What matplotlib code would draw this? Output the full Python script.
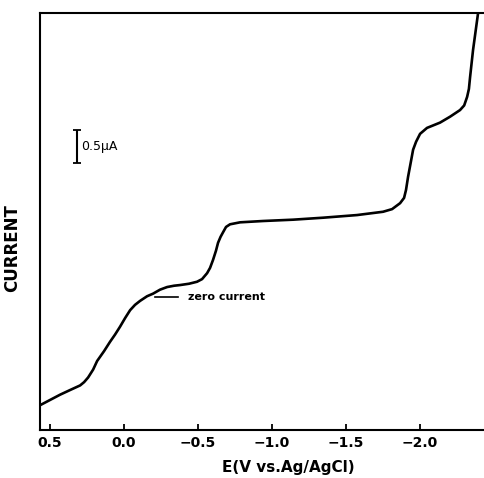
import numpy as np
import matplotlib
matplotlib.use("Agg")
import matplotlib.pyplot as plt

# polarogram: potential (V vs Ag/AgCl) and current (uA)
potential = [0.568, 0.500, 0.432, 0.365, 0.297, 0.270, 0.243, 0.209, 0.182,
             0.135, 0.095, 0.061, 0.027, -0.007, -0.041, -0.074, -0.108,
             -0.155, -0.196, -0.243, -0.291, -0.338, -0.378, -0.439, -0.493,
             -0.527, -0.561, -0.581, -0.601, -0.621, -0.635, -0.652, -0.669,
             -0.689, -0.716, -0.784, -0.939, -1.142, -1.345, -1.574, -1.750,
             -1.811, -1.865, -1.892, -1.905, -1.919, -1.939, -1.953, -1.973,
             -2.000, -2.047, -2.135, -2.203, -2.270, -2.298, -2.318, -2.330,
             -2.338, -2.358, -2.392]
current = [-1.64, -1.56, -1.48, -1.41, -1.34, -1.29, -1.22, -1.10, -0.97,
           -0.82, -0.68, -0.57, -0.45, -0.32, -0.20, -0.12, -0.06,
           0.01, 0.05, 0.11, 0.15, 0.17, 0.18, 0.20, 0.23,
           0.27, 0.36, 0.44, 0.56, 0.70, 0.82, 0.91, 0.98,
           1.06, 1.10, 1.13, 1.15, 1.17, 1.20, 1.24, 1.29,
           1.33, 1.42, 1.50, 1.62, 1.82, 2.06, 2.23, 2.35,
           2.47, 2.56, 2.64, 2.73, 2.83, 2.90, 3.03, 3.15,
           3.33, 3.74, 4.30]

tick_vals = [0.5, 0.0, -0.5, -1.0, -1.5, -2.0]
tick_labels = ["0.5", "0.0", "\u22120.5", "\u22121.0", "\u22121.5", "\u22122.0"]

fig = plt.figure(figsize=(4.84, 4.78), dpi=100)
ax = fig.add_axes([40 / 484, 48 / 478, 444 / 484, 417 / 478])

ax.plot(potential, current, color="black", lw=1.9,
        solid_capstyle="round", solid_joinstyle="round")

ax.set_xlim(0.568, -2.432)
ax.set_ylim(-2.015, 4.30)

ax.spines["right"].set_visible(False)
for s in ["left", "top", "bottom"]:
    ax.spines[s].set_linewidth(1.5)

ax.set_xticks(tick_vals)
ax.set_xticklabels(tick_labels, fontsize=10, fontweight="bold")
ax.tick_params(axis="x", direction="in", length=4, width=1.3, pad=4)
ax.set_yticks([])

ax.set_xlabel("E(V vs.Ag/AgCl)", fontsize=11, fontweight="bold")
ax.xaxis.set_label_coords(0.56, -0.072)
ax.set_ylabel("CURRENT", fontsize=12, fontweight="bold")
ax.yaxis.set_label_coords(-0.043, 0.436)

# 0.5 uA scale bar
ax.errorbar([0.318], [2.28], yerr=[[0.25], [0.25]], fmt="none",
            ecolor="black", elinewidth=1.5, capsize=3, capthick=1.3)
ax.text(0.29, 2.28, "0.5\u03bcA", fontsize=9, va="center", ha="left")

# zero current marker
ax.plot([-0.209, -0.365], [0.0, 0.0], color="black", lw=1.2)
ax.text(-0.43, 0.0, "zero current", fontsize=8, fontweight="bold",
        va="center", ha="left")

fig.savefig("out.png", dpi=100)
